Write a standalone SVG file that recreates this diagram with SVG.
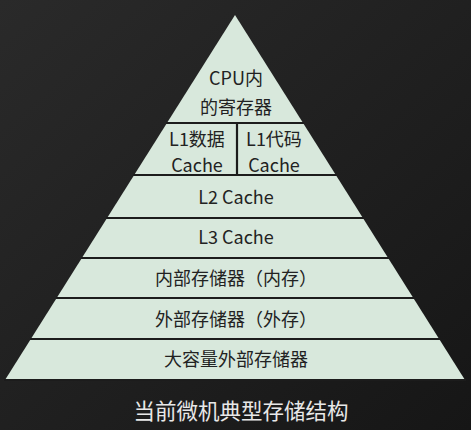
<svg xmlns="http://www.w3.org/2000/svg" width="471" height="430" viewBox="0 0 471 430">
<defs>
<style>
.band{fill:#d8e8dc;}
.ln{stroke:#1c1c1c;stroke-width:2.2;fill:none;}
.t{font-family:"Noto Sans CJK SC","Microsoft YaHei",sans-serif;font-size:18px;fill:#222;text-anchor:middle;}
.cap{font-family:"Noto Sans CJK SC","Microsoft YaHei",sans-serif;font-size:21.5px;fill:#e8e8e8;text-anchor:middle;}
</style>
<linearGradient id="bg" x1="0" y1="0" x2="1" y2="1">
<stop offset="0" stop-color="#2a2a2a"/>
<stop offset="1" stop-color="#161616"/>
</linearGradient>
</defs>
<rect width="471" height="430" fill="url(#bg)"/>
<g id="pyramid">
<polygon class="band" points="235,15 465,380 5,380"/>
</g>
<g id="connectors">
<line class="ln" x1="166" y1="123" x2="304" y2="123"/>
<line class="ln" x1="237" y1="123" x2="237" y2="175"/>
<line class="ln" x1="133" y1="175" x2="337" y2="175"/>
<line class="ln" x1="106" y1="218" x2="364" y2="218"/>
<line class="ln" x1="81" y1="258" x2="389" y2="258"/>
<line class="ln" x1="56" y1="298" x2="414" y2="298"/>
<line class="ln" x1="30" y1="339" x2="440" y2="339"/>
<line class="ln" x1="4" y1="380" x2="466" y2="380"/>
</g>
<g id="cpu"><text class="t" x="236" y="85" font-size="19.5">CPU内</text><text class="t" x="236" y="114" font-size="19.5">的寄存器</text></g>
<g id="l1d"><text class="t" x="197" y="146">L1数据</text><text class="t" x="197" y="172">Cache</text></g>
<g id="l1c"><text class="t" x="274" y="146">L1代码</text><text class="t" x="274" y="172">Cache</text></g>
<g id="l2"><text class="t" x="236" y="204">L2 Cache</text></g>
<g id="l3"><text class="t" x="236" y="244">L3 Cache</text></g>
<g id="mem"><text class="t" x="236" y="285">内部存储器（内存）</text></g>
<g id="ext"><text class="t" x="236" y="326">外部存储器（外存）</text></g>
<g id="mass"><text class="t" x="236" y="366">大容量外部存储器</text></g>
<g id="caption"><text class="cap" x="241" y="419">当前微机典型存储结构</text></g>
</svg>
